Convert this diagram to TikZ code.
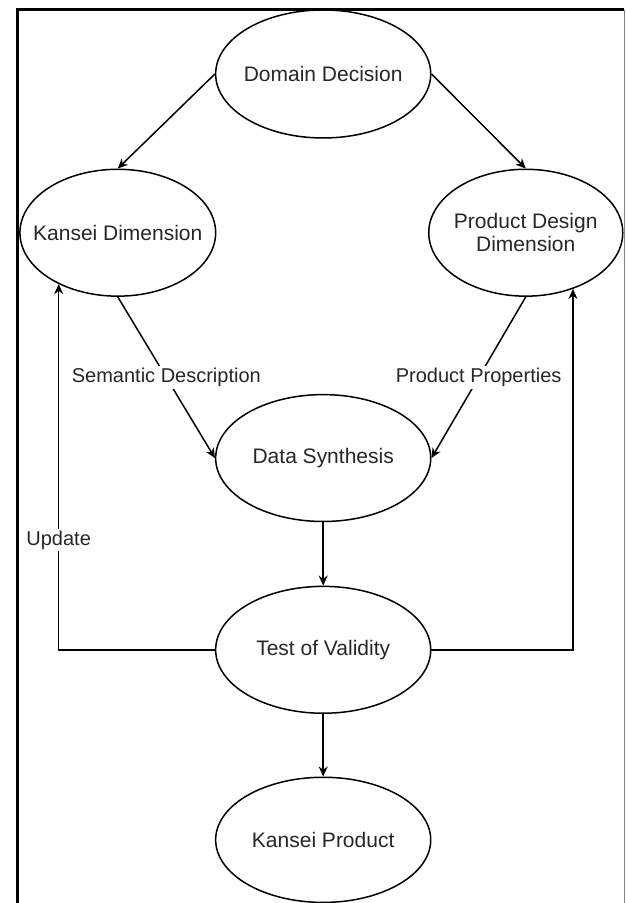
\documentclass[tikz,border=0pt]{standalone}
\usepackage{fontspec}
\setmainfont{Liberation Sans}
\usepackage{xcolor}
\usetikzlibrary{arrows.meta, positioning, shapes.geometric}

\begin{document}
\begin{tikzpicture}[line width=0.75pt]
	\tikzset{arrow/.style={-{Stealth[length=5pt, width=4.5pt]}}}
	\tikzset{stage/.style={draw, ellipse, minimum width=3.78cm, minimum height=2.25cm, inner ysep=0pt, inner xsep=-10pt, align=center, text=black!85, font=\fontsize{10.5}{11.5}\selectfont}}
	\tikzset{tag/.style={fill=white, inner sep=1pt, text=black!85, font=\fontsize{10}{12}\selectfont}}

	\useasboundingbox (0,0) rectangle (11,-15.87);
	% frame round the chart
	\draw[line width=1.5pt] (0.30,-15.87) -- (0.30,-0.17) -- (10.97,-0.17);
	\draw[gray, line width=0.5pt] (10.97,-0.17) -- (10.97,-15.87);

	\node (domain) [stage] at (5.68,-1.30) {Domain Decision};
	\node (kdim) [stage, minimum width=3.44cm, minimum height=2.23cm] at (2.07,-4.09) {Kansei Dimension};
	\node (pdim) [stage, minimum width=3.41cm, minimum height=2.23cm] at (9.24,-4.09) {Product Design\\Dimension};
	\node (synth) [stage, minimum height=2.23cm] at (5.68,-8.05) {Data Synthesis};
	\node (test) [stage, minimum height=2.23cm] at (5.68,-11.42) {Test of Validity};
	\node (kproduct) [stage, minimum height=2.2cm] at (5.68,-14.76) {Kansei Product};

	\draw[arrow] (domain.west) -- (kdim.north);
	\draw[arrow] (domain.east) -- (pdim.north);
	\draw[arrow] (kdim.south) -- node[tag]{Semantic Description} (synth.west);
	\draw[arrow] (pdim.south) -- node[tag]{Product Properties} (synth.east);
	\draw[arrow] (synth.south) -- (test.north);
	\draw[arrow] (test.south) -- (kproduct.north);
	% feedback loops
	\draw[arrow] (test.west) -| node[tag, pos=0.65]{Update} (kdim.221);
	\draw[arrow] (test.east) -| (pdim.-50);
\end{tikzpicture}
\end{document}
